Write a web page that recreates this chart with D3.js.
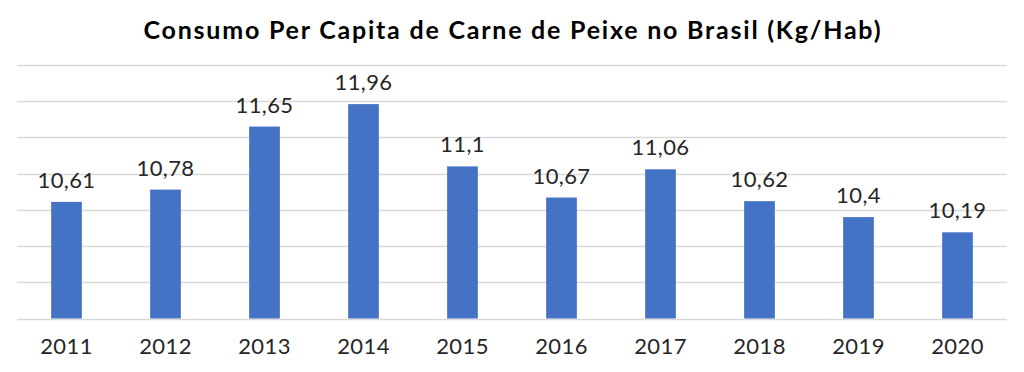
<!DOCTYPE html>
<html>
<head>
<meta charset="utf-8">
<script src="https://cdn.jsdelivr.net/npm/d3@7"></script>
<style>
  body { margin: 0; background: #fff; }
  svg text { font-family: "Century Gothic", Lato, "Noto Sans", sans-serif; }
  .title { font-weight: 700; font-size: 25px; fill: #000; }
  .label { font-size: 22px; fill: #262626; letter-spacing: 0.4px; }
  .axis text { font-size: 22px; fill: #262626; letter-spacing: 0.4px; }
</style>
</head>
<body>
<svg id="chart"></svg>
<script>
var years = ["2011", "2012", "2013", "2014", "2015", "2016", "2017", "2018", "2019", "2020"];
var consumo = [10.61, 10.78, 11.65, 11.96, 11.1, 10.67, 11.06, 10.62, 10.4, 10.19];
var yTicks = [9, 9.5, 10, 10.5, 11, 11.5, 12, 12.5];

var width = 1024, height = 372;
var plot = { left: 17, right: 1007, top: 65, bottom: 318.5 };

var svg = d3.select("#chart")
    .attr("width", width)
    .attr("height", height);

var x = d3.scaleBand()
    .domain(years)
    .range([plot.left, plot.right])
    .paddingInner(0.69)
    .paddingOuter(0.345);

var y = d3.scaleLinear()
    .domain([9, 12.5])
    .range([plot.bottom, plot.top]);

var fmt = function(v) { return String(v).replace(".", ","); };

// gridlines
svg.append("g")
    .selectAll("line")
    .data(yTicks)
    .join("line")
    .attr("x1", plot.left)
    .attr("x2", plot.right)
    .attr("y1", function(d) { return Math.round(y(d)) + 0.5; })
    .attr("y2", function(d) { return Math.round(y(d)) + 0.5; })
    .attr("stroke", "#d9d9d9")
    .attr("stroke-width", 1.3);

// bars
svg.append("g")
    .selectAll("rect")
    .data(consumo)
    .join("rect")
    .attr("x", function(d, i) { return x(years[i]); })
    .attr("width", x.bandwidth())
    .attr("y", function(d) { return y(d); })
    .attr("height", function(d) { return y(9) - y(d); })
    .attr("fill", "#4472C4");

// value labels
svg.append("g")
    .selectAll("text")
    .data(consumo)
    .join("text")
    .attr("class", "label")
    .attr("x", function(d, i) { return x(years[i]) + x.bandwidth() / 2; })
    .attr("y", function(d) { return y(d) - 14; })
    .attr("text-anchor", "middle")
    .text(fmt);

// x axis
var xAxis = d3.axisBottom(x).tickSize(0).tickPadding(20);
svg.append("g")
    .attr("class", "axis")
    .attr("transform", "translate(0," + plot.bottom + ")")
    .call(xAxis)
    .call(function(g) { g.select(".domain").remove(); });

svg.append("text")
    .attr("class", "title")
    .attr("x", 512)
    .attr("y", 39)
    .attr("text-anchor", "middle")
    .attr("textLength", 737)
    .attr("lengthAdjust", "spacing")
    .text("Consumo Per Capita de Carne de Peixe no Brasil (Kg/Hab)");
</script>
</body>
</html>
